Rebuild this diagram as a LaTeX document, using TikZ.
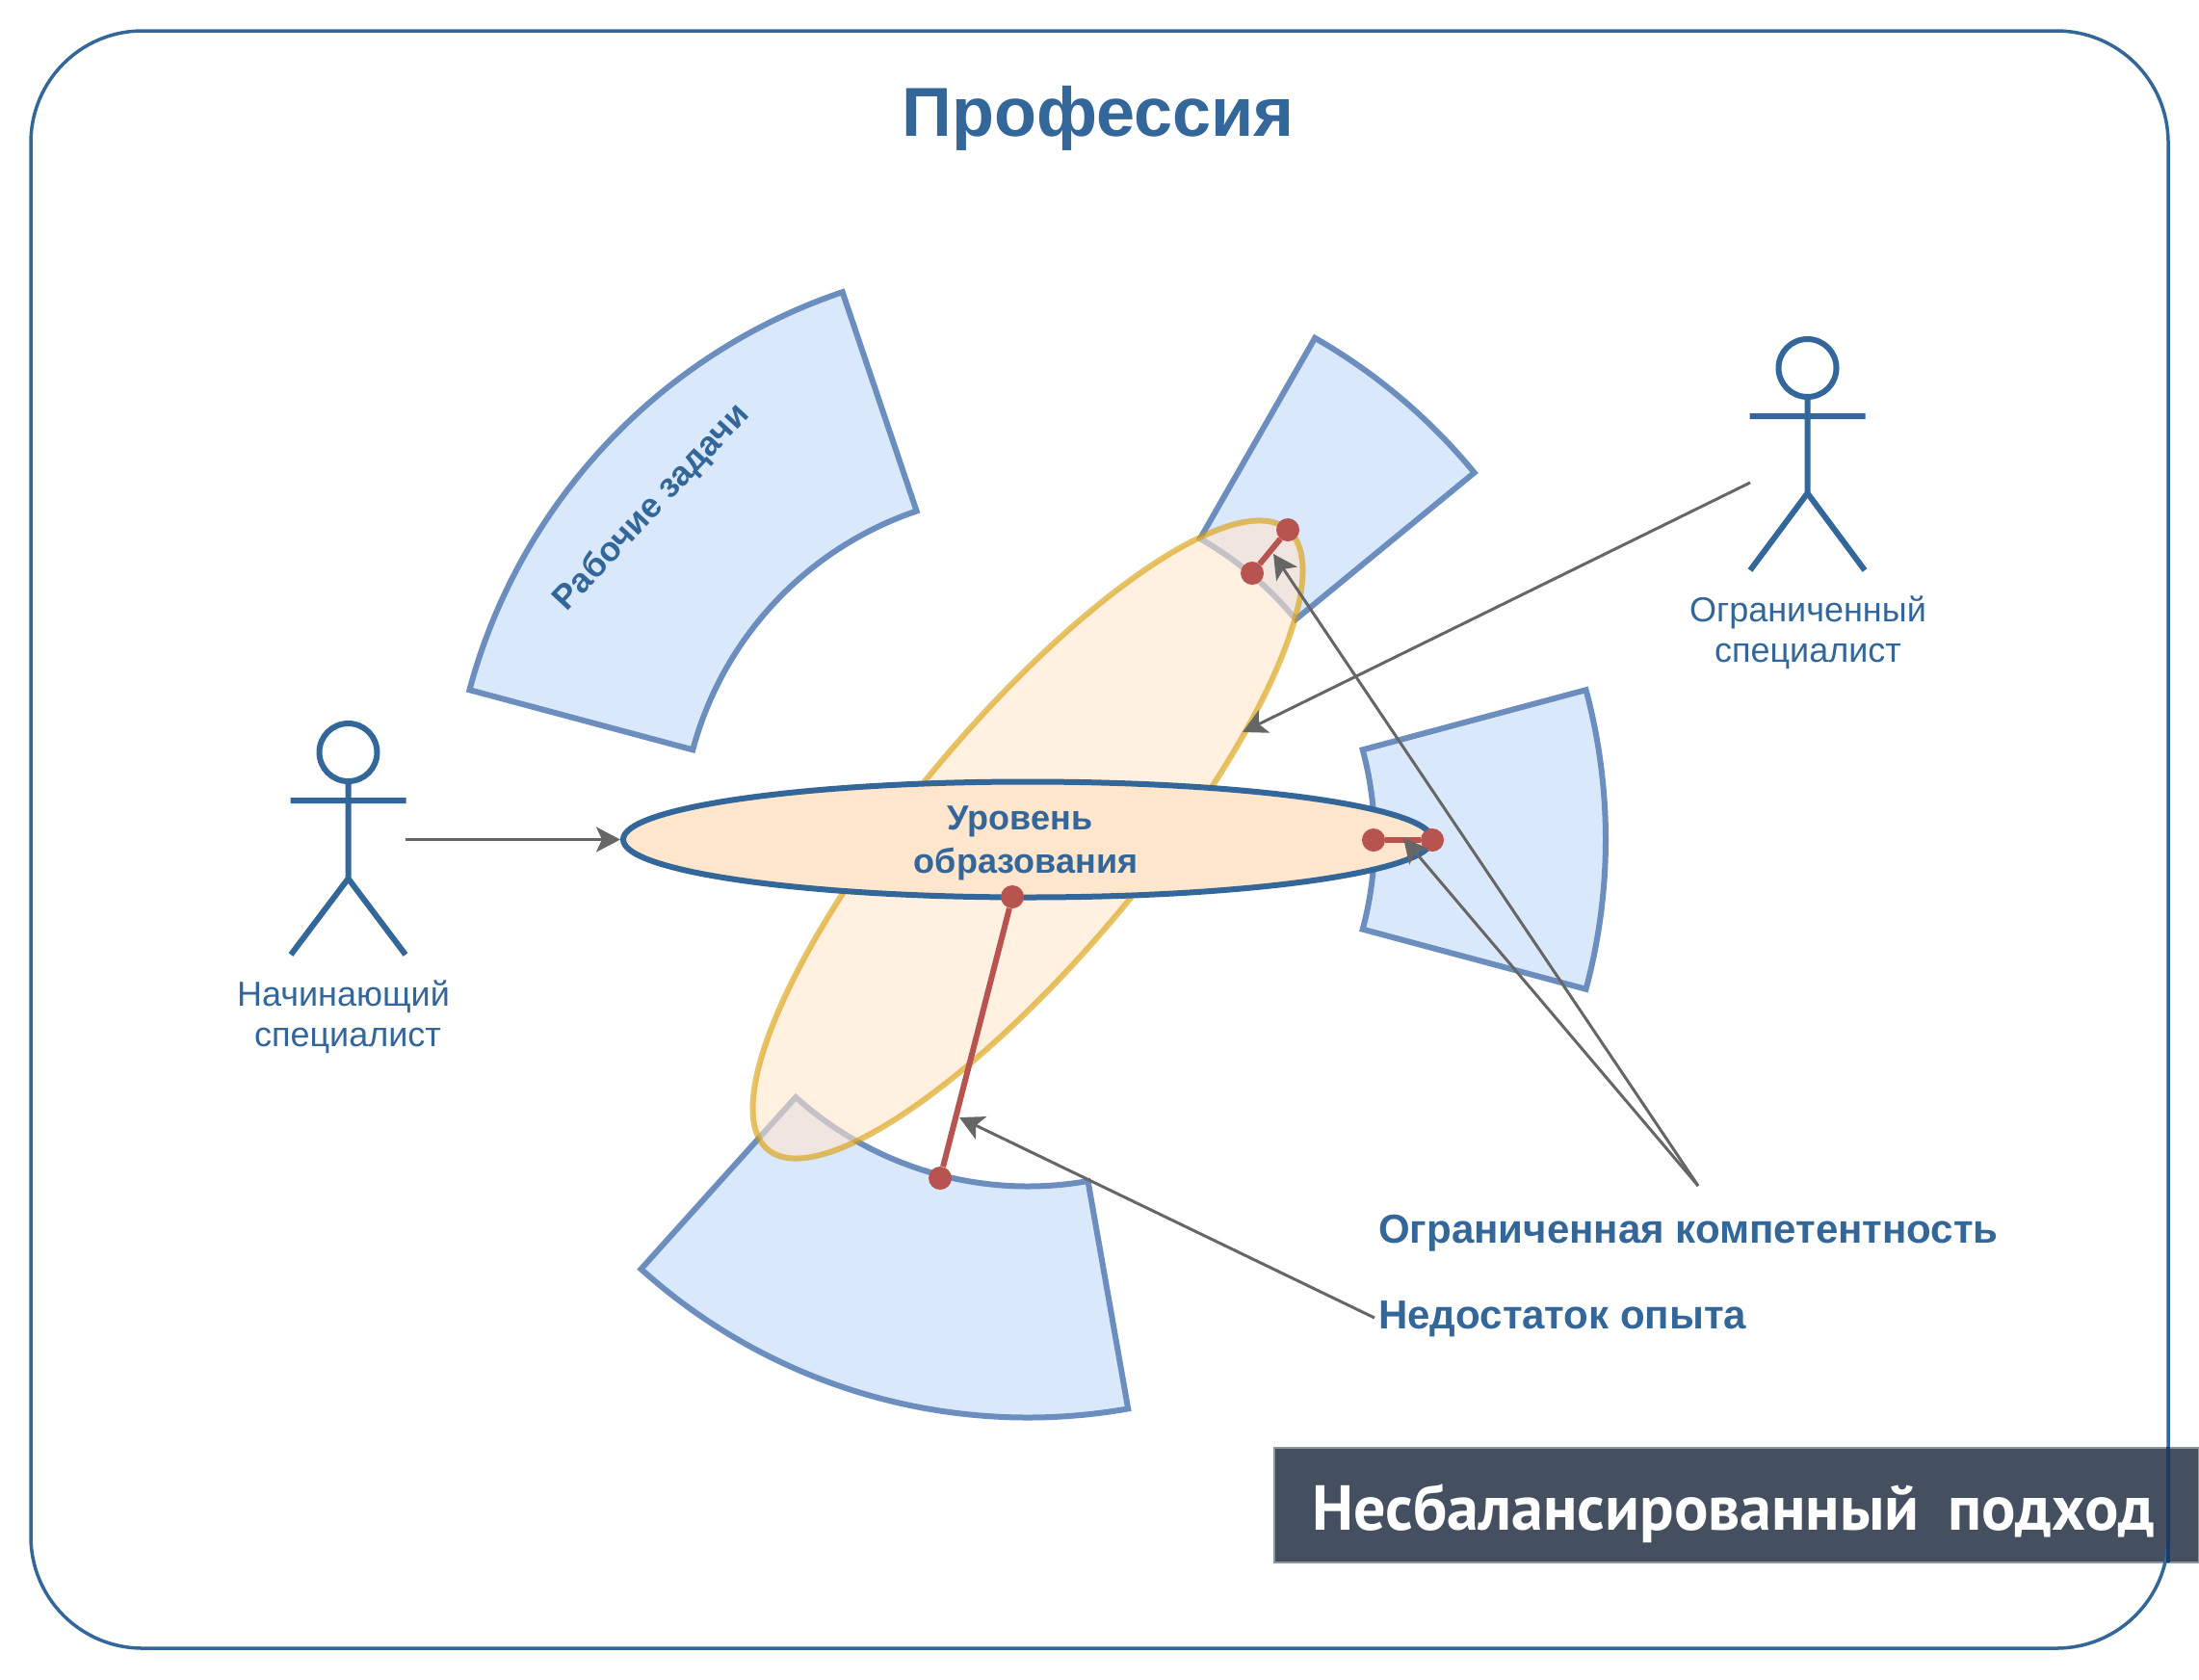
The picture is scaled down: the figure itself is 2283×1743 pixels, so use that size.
\documentclass[tikz,border=0pt]{standalone}
\usepackage{fontspec}
\setmainfont{Liberation Sans}
\newfontfamily\barfont{PT Sans}
\usetikzlibrary{arrows.meta,shapes.geometric}
\definecolor{navy}{HTML}{336699}
\definecolor{navydark}{HTML}{1F3A63}
\definecolor{secfill}{HTML}{DAE8FC}
\definecolor{secline}{HTML}{6C8EBF}
\definecolor{ellfill}{HTML}{FFE6CC}
\definecolor{ellline}{HTML}{D79B00}
\definecolor{redline}{HTML}{B85450}
\definecolor{arrowgrey}{HTML}{666666}
\definecolor{barfill}{HTML}{44505F}
\definecolor{baredge}{HTML}{8C96A0}
\tikzset{
  sector/.style={draw=secline,fill=secfill,line width=6pt,line join=miter},
  tilted/.style={draw=ellline,fill=ellfill,line width=6pt,opacity=.6},
  level/.style={ellipse,draw=navy,fill=ellfill,line width=6pt,minimum width=840pt,minimum height=120pt,inner sep=0pt},
  gap/.style={draw=redline,line width=6pt},
  dot/.style={circle,fill=redline,inner sep=0pt,minimum size=24pt},
  pointer/.style={draw=arrowgrey,line width=3pt,-{Stealth[length=25pt,width=26pt,inset=6pt]}},
  figure/.style={draw=navy,line width=6pt},
  figurehead/.style={draw=navy,line width=6pt,circle,minimum size=60pt,inner sep=0pt},
  lbl/.style={text=navy,font=\fontsize{36}{42}\selectfont,align=center,inner sep=0pt},
  blbl/.style={text=navy,font=\fontsize{42}{45}\selectfont\bfseries,align=center,inner sep=0pt},
  clbl/.style={text=navy,font=\fontsize{36}{45}\selectfont\bfseries,align=center,inner sep=0pt},
}
\newcommand{\sectorpath}[2]{(#1:360) -- (#1:600) arc[start angle=#1,end angle=#2,radius=600] -- (#2:360) arc[start angle=#2,end angle=#1,radius=360] -- cycle}
\begin{document}
\begin{tikzpicture}[x=1pt,y=-1pt]
\useasboundingbox (0,0) rectangle (2283,1743);
\fill[white] (0,0) rectangle (2283,1743);
\coordinate (C) at (1067,871.5);
% bar and frame
\node[fill=barfill,draw=baredge,line width=1.5pt,minimum width=960pt,minimum height=119pt,anchor=north west,inner sep=0pt] (bar) at (1322,1502) {};
\node[text=white,font=\fontsize{66}{70}\selectfont\barfont\bfseries,anchor=base,inner sep=0pt] (bartext) at (1800,1588) {Несбалансированный\hspace{0.45em}подход};
\draw[navy,line width=3.5pt,rounded corners=116pt] (32,32) rectangle (2251,1711);
\coordinate (fa) at (2251,1502); \coordinate (fb) at (2251,1622);
\draw[navydark,line width=3.5pt] (fa) -- (fb);
% sectors
\begin{scope}[shift={(1067,871.5)},y=1pt]
\draw[sector] \sectorpath{108.7}{165};
\draw[sector] \sectorpath{39.4}{60.2};
\draw[sector] \sectorpath{-15}{15};
\draw[sector] \sectorpath{-132}{-80};
\end{scope}
\node[rotate=47,text=navy,font=\fontsize{35.5}{40}\selectfont\bfseries,inner sep=0pt] (tasks) at (677,527) {Рабочие задачи};
% ellipses
\path[tilted] (C) ellipse[x radius=420,y radius=121,rotate=50];
\node[level] (level) at (C) {};
\node[clbl] (lvl) at (1065,875) {Уровень\hspace*{12pt}\\образования};
% gaps
\node[dot] (a1) at (1337,550) {};
\node[dot] (a2) at (1300,595) {};
\node[dot] (b1) at (1426,872) {};
\node[dot] (b2) at (1487,872) {};
\node[dot] (c1) at (1051,931) {};
\node[dot] (c2) at (976,1223) {};
\draw[gap] (a1) -- (a2);
\draw[gap] (b1) -- (b2);
\draw[gap] (c1) -- (c2);
% figures
\node[figurehead] (headL) at (361.5,781) {};
\coordinate (armLl) at (301.5,831); \coordinate (armLr) at (421.5,831);
\coordinate (hipL) at (361.5,912); \coordinate (footLl) at (302,991); \coordinate (footLr) at (421,991);
\draw[figure] (headL.south) -- (hipL) (armLl) -- (armLr) (footLl) -- (hipL) -- (footLr);
\node[figurehead] (headR) at (1876.5,382) {};
\coordinate (armRl) at (1816.5,432); \coordinate (armRr) at (1936.5,432);
\coordinate (hipR) at (1876.5,512); \coordinate (footRl) at (1817,592); \coordinate (footRr) at (1936,592);
\draw[figure] (headR.south) -- (hipR) (armRl) -- (armRr) (footRl) -- (hipR) -- (footRr);
\node[lbl] (nov) at (361,1056) {Начинающий\hspace*{9pt}\\специалист};
\node[lbl] (lim) at (1877,657) {Ограниченный\\специалист};
% title and labels
\node[text=navy,font=\fontsize{72}{80}\selectfont\bfseries,inner sep=0pt] (title) at (1140,123) {Профессия};
\node[blbl,anchor=west] (comp) at (1431,1280) {Ограниченная компетентность};
\node[blbl,anchor=west] (exp) at (1431,1369) {Недостаток опыта};
% arrows
\coordinate (src1) at (421,871.5);
\coordinate (src2) at (1817,501);
\coordinate (tgt2) at (1290,760);
\coordinate (src3) at (1763,1231);
\coordinate (tgt3) at (1322,575);
\coordinate (tgt4) at (1457,870);
\coordinate (src5) at (1427,1368);
\coordinate (tgt5) at (996,1160);
\draw[pointer] (src1) -- (level.west);
\draw[pointer] (src2) -- (tgt2);
\draw[pointer] (src3) -- (tgt3);
\draw[pointer] (src3) -- (tgt4);
\draw[pointer] (src5) -- (tgt5);
\end{tikzpicture}
\end{document}
